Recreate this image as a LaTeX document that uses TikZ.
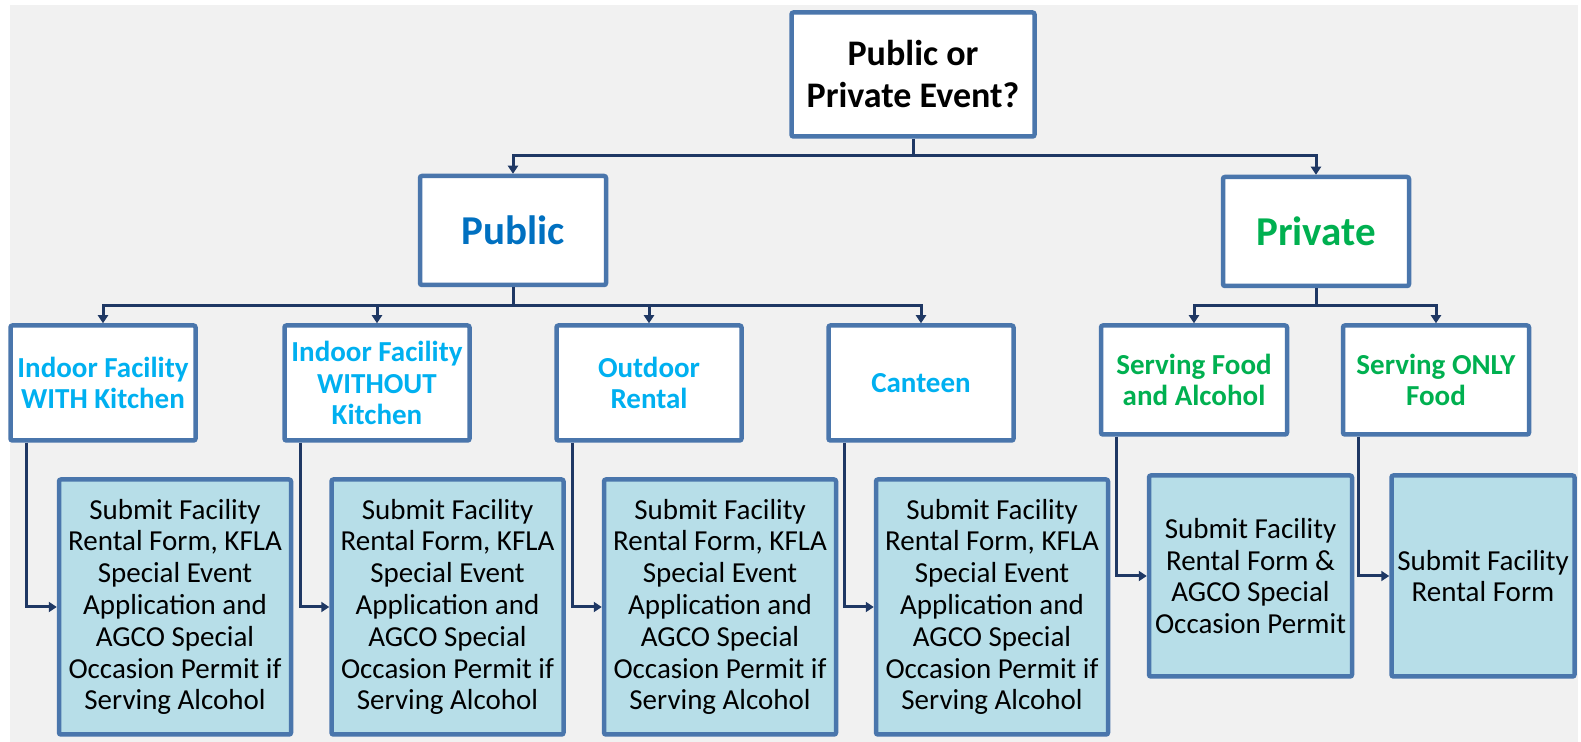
\documentclass[tikz,border=0pt]{standalone}
\usepackage{fontspec}
\setmainfont{Carlito}
\usetikzlibrary{arrows.meta}
\definecolor{bg}{RGB}{241,241,241}
\definecolor{bord}{RGB}{74,118,172}
\definecolor{conncol}{RGB}{31,56,100}
\definecolor{pubblue}{RGB}{0,112,192}
\definecolor{lblue}{RGB}{0,176,240}
\definecolor{pgreen}{RGB}{0,176,80}
\definecolor{fillblue}{RGB}{183,222,232}
\tikzset{
  box/.style={draw=bord, line width=2.25pt, rounded corners=1pt, fill=white, align=center, inner sep=0pt},
  topbox/.style={box, minimum width=121.5pt, minimum height=62pt, font=\fontsize{18}{21}\selectfont\bfseries},
  midbox/.style={box, minimum width=93pt, minimum height=54.5pt, font=\fontsize{20.5}{24}\selectfont\bfseries},
  pubopt/.style={box, minimum width=92.5pt, minimum height=57.5pt, font=\fontsize{14.5}{15.9}\selectfont\bfseries, text=lblue},
  privopt/.style={box, minimum width=93pt, minimum height=54.5pt, font=\fontsize{14.5}{15.9}\selectfont\bfseries, text=pgreen},
  action/.style={box, fill=fillblue, font=\fontsize{14.5}{15.9}\selectfont},
  pubact/.style={action, minimum width=116pt, minimum height=127.5pt},
  conn/.style={draw=conncol, line width=1.5pt, -{Triangle[length=4pt,width=5pt]}},
  stem/.style={draw=conncol, line width=1.5pt}
}
\begin{document}
\begin{tikzpicture}[x=0.5pt,y=-0.5pt]
\useasboundingbox (0,0) rectangle (1581,742);
\fill[white] (0,0) rectangle (1581,742);
\fill[bg] (10,5) rectangle (1578,742);

% level 1
\node[topbox] (top) at (913,74.5) {Public or\\Private Event?};
% level 2
\node[midbox, text=pubblue] (pub) at (513,230.5) {Public};
\node[midbox, text=pgreen] (priv) at (1316,231.5) {Private};
% level 3
\node[pubopt] (o1) at (103,383) {Indoor Facility\\WITH Kitchen};
\node[pubopt] (o2) at (377,383) {Indoor Facility\\WITHOUT\\Kitchen};
\node[pubopt] (o3) at (649,383) {Outdoor\\Rental};
\node[pubopt] (o4) at (921,383) {Canteen};
\node[privopt] (o5) at (1194,380) {Serving Food\\and Alcohol};
\node[privopt] (o6) at (1436,380) {Serving ONLY\\Food};
% level 4
\node[pubact] (a1) at (175,607) {Submit Facility\\Rental Form, KFLA\\Special Event\\Application and\\AGCO Special\\Occasion Permit if\\Serving Alcohol};
\node[pubact] (a2) at (447.5,607) {Submit Facility\\Rental Form, KFLA\\Special Event\\Application and\\AGCO Special\\Occasion Permit if\\Serving Alcohol};
\node[pubact] (a3) at (720,607) {Submit Facility\\Rental Form, KFLA\\Special Event\\Application and\\AGCO Special\\Occasion Permit if\\Serving Alcohol};
\node[pubact] (a4) at (992,607) {Submit Facility\\Rental Form, KFLA\\Special Event\\Application and\\AGCO Special\\Occasion Permit if\\Serving Alcohol};
\node[action, minimum width=101.5pt, minimum height=100.5pt] (a5) at (1250.5,576) {Submit Facility\\Rental Form \&\\AGCO Special\\Occasion Permit};
\node[action, minimum width=91.5pt, minimum height=100.5pt] (a6) at (1483,576) {Submit Facility\\Rental Form};

% connectors level 1 -> 2
\coordinate (h1) at (913,156);
\draw[stem] (top.south) -- (h1);
\draw[conn] (h1) -| (pub.north);
\draw[conn] (h1) -| (priv.north);
% level 2 -> 3 (public)
\coordinate (h2) at (513,306);
\draw[stem] (pub.south) -- (h2);
\draw[conn] (h2) -| (o1.north);
\draw[conn] (h2) -| (o2.north);
\draw[conn] (h2) -| (o3.north);
\draw[conn] (h2) -| (o4.north);
% level 2 -> 3 (private)
\coordinate (h3) at (1316,306);
\draw[stem] (priv.south) -- (h3);
\draw[conn] (h3) -| (o5.north);
\draw[conn] (h3) -| (o6.north);
% level 3 -> 4
\foreach \o/\a in {o1/a1,o2/a2,o3/a3,o4/a4,o5/a5,o6/a6}{
  \draw[conn] ([xshift=9pt]\o.south west) |- (\a.west);
}
\end{tikzpicture}
\end{document}
